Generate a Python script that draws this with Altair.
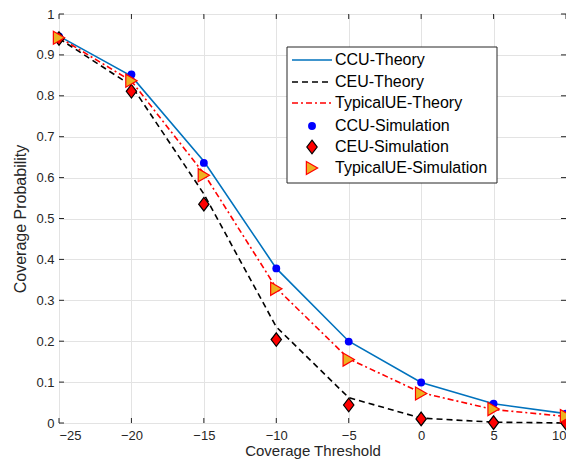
import altair as alt
import pandas as pd

# ---- data ----
x_vals = [-25, -20, -15, -10, -5, 0, 5, 10]
ccu_theory = [0.946, 0.848, 0.640, 0.378, 0.200, 0.099, 0.047, 0.023]
ceu_theory = [0.940, 0.825, 0.560, 0.235, 0.062, 0.012, 0.002, 0.000]
typ_theory = [0.943, 0.836, 0.610, 0.330, 0.157, 0.074, 0.033, 0.016]
ccu_sim = [0.945, 0.852, 0.636, 0.378, 0.199, 0.099, 0.047, 0.023]
ceu_sim = [0.940, 0.811, 0.535, 0.204, 0.044, 0.010, 0.001, 0.000]
typ_sim = [0.942, 0.837, 0.606, 0.328, 0.155, 0.072, 0.034, 0.017]

x_ticks = [-25, -20, -15, -10, -5, 0, 5, 10]
y_ticks = [0, 0.1, 0.2, 0.3, 0.4, 0.5, 0.6, 0.7, 0.8, 0.9, 1.0]

legend_labels = ["CCU-Theory", "CEU-Theory", "TypicalUE-Theory",
                 "CCU-Simulation", "CEU-Simulation", "TypicalUE-Simulation"]

W, H = 507, 409
PAD_L, PAD_T = 51, 6
FONT = "Liberation Sans"
AX = "#262626"

xs = alt.Scale(domain=[-25, 10], nice=False)
ys = alt.Scale(domain=[0, 1], nice=False)


def df(vals):
    return pd.DataFrame({"x": x_vals, "y": vals})


xenc = alt.X("x:Q", scale=xs, title="Coverage Threshold",
             axis=alt.Axis(values=x_ticks, format="d", grid=True))
yenc = alt.Y("y:Q", scale=ys, title="Coverage Probability",
             axis=alt.Axis(values=y_ticks, format="~g", grid=True))
X = alt.X("x:Q", scale=xs)
Y = alt.Y("y:Q", scale=ys)

# base layer carrying the axes
base = alt.Chart(df(ccu_theory)).mark_line(strokeWidth=1.6, color="#0072BD").encode(x=xenc, y=yenc)

ceu_line = alt.Chart(df(ceu_theory)).mark_line(strokeWidth=1.6, color="black",
                                               strokeDash=[6, 4]).encode(x=X, y=Y)
typ_line = alt.Chart(df(typ_theory)).mark_line(strokeWidth=1.6, color="#FF0000",
                                               strokeDash=[6, 3, 2, 3]).encode(x=X, y=Y)

ccu_pts = alt.Chart(df(ccu_sim)).mark_point(shape="circle", filled=True, size=62,
                                            color="#0000FF", opacity=1).encode(x=X, y=Y)
DIAMOND = "M0,-1L0.76,0L0,1L-0.76,0Z"
ceu_pts = alt.Chart(df(ceu_sim)).mark_point(shape=DIAMOND, filled=True, size=185,
                                            fill="#FF0000", stroke="black",
                                            strokeWidth=1.2, opacity=1).encode(x=X, y=Y)
typ_pts = alt.Chart(df(typ_sim)).mark_point(shape="triangle-right", filled=True, size=170,
                                            fill="#EDB120", stroke="#FF0000",
                                            strokeWidth=1.2, opacity=1).encode(x=X, y=Y)

# inward ticks (MATLAB style) on all four sides
xt = pd.DataFrame({"x": x_ticks})
yt = pd.DataFrame({"y": y_ticks})
tick_bottom = alt.Chart(xt).mark_rule(color=AX, strokeWidth=1).encode(
    x=X, y=alt.value(H), y2=alt.value(H - 5))
tick_top = alt.Chart(xt).mark_rule(color=AX, strokeWidth=1).encode(
    x=X, y=alt.value(0), y2=alt.value(5))
tick_left = alt.Chart(yt).mark_rule(color=AX, strokeWidth=1).encode(
    y=Y, x=alt.value(0), x2=alt.value(5))
tick_right = alt.Chart(yt).mark_rule(color=AX, strokeWidth=1).encode(
    y=Y, x=alt.value(W - 5), x2=alt.value(W))

# ---- legend box (drawn manually to mimic MATLAB) ----
LX0, LX1, LY0, LY1 = 228, 438, 33, 169
row_y = [46, 68, 89, 112, 133, 154]
seg_x0, seg_x1, sym_x, txt_x = 233, 273, 253, 276

one = pd.DataFrame({"a": [0]})
leg_box = alt.Chart(one).mark_rect(fill="white", stroke="#262626", strokeWidth=1).encode(
    x=alt.value(LX0), x2=alt.value(LX1), y=alt.value(LY0), y2=alt.value(LY1))
leg_l1 = alt.Chart(one).mark_rule(color="#0072BD", strokeWidth=1.6).encode(
    x=alt.value(seg_x0), x2=alt.value(seg_x1), y=alt.value(row_y[0]))
leg_l2 = alt.Chart(one).mark_rule(color="black", strokeWidth=1.6, strokeDash=[6, 4]).encode(
    x=alt.value(seg_x0), x2=alt.value(seg_x1), y=alt.value(row_y[1]))
leg_l3 = alt.Chart(one).mark_rule(color="#FF0000", strokeWidth=1.6, strokeDash=[6, 3, 2, 3]).encode(
    x=alt.value(seg_x0), x2=alt.value(seg_x1), y=alt.value(row_y[2]))
leg_p1 = alt.Chart(one).mark_point(shape="circle", filled=True, size=62, color="#0000FF",
                                   opacity=1).encode(x=alt.value(sym_x), y=alt.value(row_y[3]))
leg_p2 = alt.Chart(one).mark_point(shape=DIAMOND, filled=True, size=185, fill="#FF0000",
                                   stroke="black", strokeWidth=1.2, opacity=1).encode(
    x=alt.value(sym_x), y=alt.value(row_y[4]))
leg_p3 = alt.Chart(one).mark_point(shape="triangle-right", filled=True, size=170, fill="#EDB120",
                                   stroke="#FF0000", strokeWidth=1.2, opacity=1).encode(
    x=alt.value(sym_x), y=alt.value(row_y[5]))
leg_texts = [
    alt.Chart(pd.DataFrame({"label": [lab]})).mark_text(
        align="left", baseline="middle", font=FONT, fontSize=16, color="black").encode(
        x=alt.value(txt_x), y=alt.value(ry), text="label:N")
    for lab, ry in zip(legend_labels, row_y)
]

chart = alt.layer(
    base, ceu_line, typ_line,
    tick_bottom, tick_top, tick_left, tick_right,
    ccu_pts, ceu_pts, typ_pts,
    leg_box, leg_l1, leg_l2, leg_l3, leg_p1, leg_p2, leg_p3, *leg_texts,
).properties(
    width=W, height=H,
    autosize=alt.AutoSizeParams(type="none"),
    padding={"left": PAD_L, "top": PAD_T, "right": 0, "bottom": 37},
).configure_view(stroke=AX, strokeWidth=1).configure_axis(
    domain=False, ticks=False, gridColor="#E3E3E3", gridWidth=1,
    labelFont=FONT, labelFontSize=13, labelColor=AX,
    titleFont=FONT, titleFontSize=15, titleColor=AX, titleFontWeight="normal",
).configure_axisX(labelPadding=6, titleY=32, titleBaseline="alphabetic").configure_axisY(
    labelPadding=5, titlePadding=7, titleFontSize=16)

chart.save("out.html", embed_options={"renderer": "svg", "actions": False})
